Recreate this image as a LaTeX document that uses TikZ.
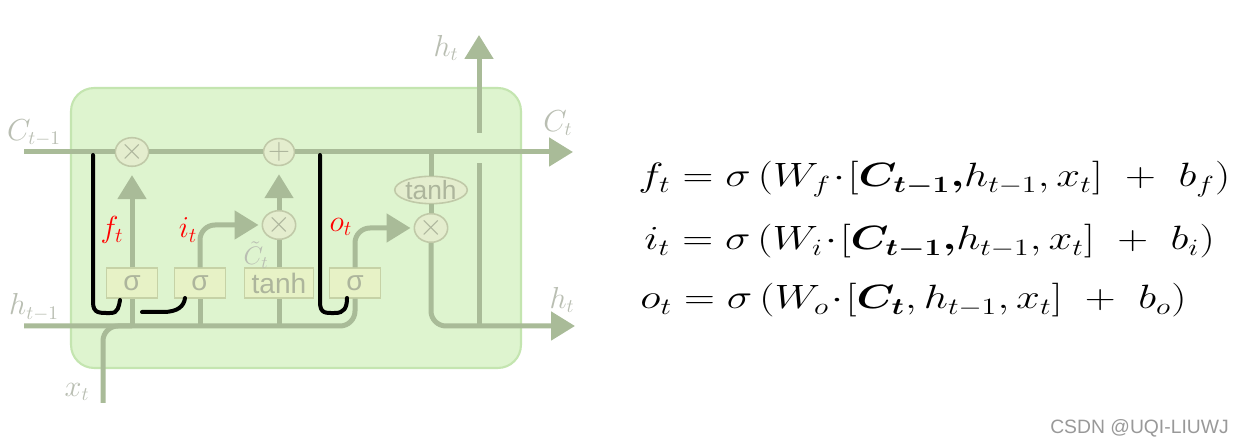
\documentclass[tikz,border=0pt]{standalone}
\usepackage{amsmath, amssymb}
\usepackage{fontspec}
\newfontfamily\gatefont{Liberation Sans}
\usetikzlibrary{shapes.geometric, arrows.meta, positioning, calc}
\definecolor{cellfill}{HTML}{DEF4CF}
\definecolor{celledge}{HTML}{C4E5B0}
\definecolor{flowcol}{HTML}{A9BB98}
\definecolor{gatefill}{HTML}{E7F2C6}
\definecolor{gateedge}{HTML}{C6D2A6}
\definecolor{opfill}{HTML}{E4EDCE}
\definecolor{opedge}{HTML}{C0C9A8}
\definecolor{optext}{HTML}{ADB59C}
\definecolor{lblcol}{HTML}{B9BEB2}
\newcommand{\wideeq}[1]{\scalebox{1.41}[1.11]{#1}}
\tikzset{
    cell_body/.style={
        rectangle, rounded corners=0.46cm, fill=cellfill, draw=celledge, line width=1.2pt,
        minimum width=9.0cm, minimum height=5.6cm
    },
    flow/.style={draw=flowcol, line width=0.1cm},
    flow_arrow/.style={flow, -{Triangle[length=0.48cm, width=0.56cm]}},
    gate_box/.style={
        rectangle, fill=gatefill, draw=gateedge, line width=0.8pt, inner sep=0pt,
        minimum width=1.02cm, minimum height=0.6cm, text=optext,
        font=\gatefont\fontsize{16}{16}\selectfont
    },
    op_circ/.style={
        ellipse, fill=opfill, draw=opedge, line width=0.9pt, inner sep=0pt,
        minimum width=0.6cm, minimum height=0.5cm, text=optext, font=\fontsize{16}{16}\selectfont
    },
    op_ell/.style={
        ellipse, fill=opfill, draw=opedge, line width=0.9pt, inner sep=0pt,
        minimum width=1.38cm, minimum height=0.36cm, text=optext,
        font=\gatefont\fontsize{15}{15}\selectfont
    },
    lbl/.style={text=lblcol, font=\fontsize{16}{16}\selectfont, inner sep=0pt},
    note/.style={text=red, font=\fontsize{17}{17}\selectfont, inner sep=0pt},
    pen/.style={draw=black, line width=0.08cm, line cap=round},
    eqn/.style={font=\fontsize{17.28}{21}\selectfont, inner sep=0pt}
}
\begin{document}
\begin{tikzpicture}[x=0.02cm, y=-0.02cm]
    \useasboundingbox (0,0) rectangle (1248,448);
    \fill[white] (0,0) rectangle (1248,448);

    % cell body
    \node[cell_body] (cell) at (296,228) {};

    % operators and gates
    \node[op_circ] (mulf) at (132,152) {$\times$};
    \node[op_circ] (addc) at (279,152) {$+$};
    \node[op_circ] (mulc) at (279,225) {$\times$};
    \node[op_circ] (mulo) at (431,228) {$\times$};
    \node[op_ell] (tanho) at (431,190) {tanh};
    \node[gate_box] (fsig) at (132,283) {σ};
    \node[gate_box] (isig) at (200,283) {σ};
    \node[gate_box, minimum width=1.38cm] (cgate) at (279,283) {tanh};
    \node[gate_box] (osig) at (355,283) {σ};

    % end points
    \coordinate (cin) at (24,152);
    \coordinate (cout) at (573,152);
    \coordinate (ctap) at (431,152);
    \coordinate (hin) at (24,326);
    \coordinate (hout) at (575,326);
    \coordinate (hsplit) at (479,326);
    \coordinate (hgap1) at (479,163);
    \coordinate (hgap2) at (479,133);
    \coordinate (htop) at (479,35);
    \coordinate (xin) at (103,403);

    % cell state
    \draw[flow] (cin) -- (mulf);
    \draw[flow] (mulf) -- (addc);
    \draw[flow_arrow] (addc) -- (cout);
    \draw[flow] (ctap) -- (tanho);
    \draw[flow] (tanho) -- (mulo);

    % hidden state and input
    \draw[flow, rounded corners=0.3cm] (hin) -| (osig);
    \draw[flow, rounded corners=0.3cm] (xin) |- (fsig |- hin);
    \draw[flow] (fsig |- hin) -- (fsig);
    \draw[flow] (isig |- hin) -- (isig);
    \draw[flow] (cgate |- hin) -- (cgate);

    % gate outputs
    \draw[flow_arrow, shorten >=0.16cm] (fsig) -- (mulf);
    \draw[flow_arrow, rounded corners=0.3cm, shorten >=0.06cm] (isig.north) |- (mulc);
    \draw[flow] (cgate) -- (mulc);
    \draw[flow_arrow, shorten >=0.16cm] (mulc) -- (addc);
    \draw[flow_arrow, rounded corners=0.3cm, shorten >=0.06cm] (osig.north) |- (mulo);
    \draw[flow_arrow, rounded corners=0.3cm] (mulo) |- (hout);
    \draw[flow] (hsplit) -- (hgap1);
    \draw[flow_arrow] (hgap2) -- (htop);

    % labels
    \node[lbl] (lcin) at (34,133) {$C_{t-1}$};
    \node[lbl] (lhin) at (34,307) {$h_{t-1}$};
    \node[lbl] (lxin) at (77,392) {$x_t$};
    \node[lbl] (lcout) at (558,123) {$C_t$};
    \node[lbl] (lhout) at (562,300) {$h_t$};
    \node[lbl] (lhtop) at (446,48) {$h_t$};
    \node[lbl, font=\fontsize{14}{14}\selectfont] (lctil) at (256,255) {$\tilde{C}_t$};

    % hand-drawn peephole marks
    \draw[pen] (93,155) -- (93,302) .. controls (93,314) and (100,313) .. (111,313)
        .. controls (118,313) and (119,306) .. (120,300);
    \draw[pen] (142,312) -- (163,312) .. controls (178,312) and (184,306) .. (185,298);
    \draw[pen] (320,155) -- (320,302) .. controls (320,314) and (326,313) .. (335,313)
        .. controls (344,313) and (347,308) .. (347,298);
    \node[note] (nf) at (112,230) {$f_t$};
    \node[note] (ni) at (188,230) {$i_t$};
    \node[note] (no) at (341,227) {$o_t$};

    % gate equations
    \node[eqn, anchor=base west] (eqf) at (638,187)
        {\wideeq{$f_t = \sigma\left(W_f\!\cdot\![\boldsymbol{C_{t-1},}h_{t-1},x_t]\ +\ b_f\right)$}};
    \node[eqn, anchor=base west] (eqi) at (644,250)
        {\wideeq{$i_t = \sigma\left(W_i\!\cdot\![\boldsymbol{C_{t-1},}h_{t-1},x_t]\ +\ b_i\right)$}};
    \node[eqn, anchor=base west] (eqo) at (640,309)
        {\wideeq{$o_t = \sigma\left(W_o\!\cdot\![\boldsymbol{C_t},h_{t-1},x_t]\ +\ b_o\right)$}};

    \node[text=gray!80, font=\gatefont\fontsize{11}{11}\selectfont, anchor=east] (mark) at (1235,428) {CSDN @UQI-LIUWJ};
\end{tikzpicture}
\end{document}
